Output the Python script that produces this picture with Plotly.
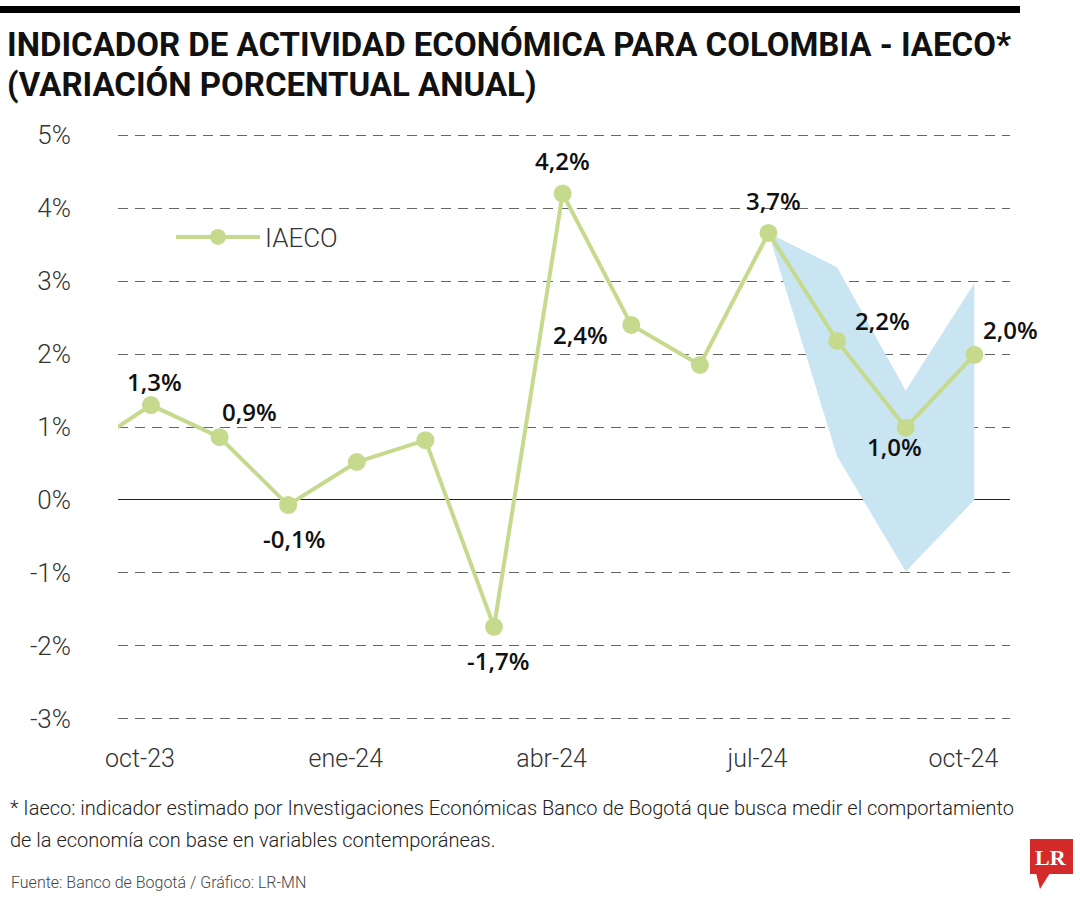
import plotly.graph_objects as go

# ---------------- data ----------------
months = ["sep-23", "oct-23", "nov-23", "dic-23", "ene-24", "feb-24", "mar-24",
          "abr-24", "may-24", "jun-24", "jul-24", "ago-24", "sep-24", "oct-24"]
month_pos = [-1, 0, 1, 2, 3, 4, 5, 6, 7, 8, 9, 10, 11, 12]
iaeco = [0.68, 1.30, 0.86, -0.07, 0.52, 0.82, -1.74, 4.20, 2.40, 1.85, 3.66, 2.18, 0.99, 1.99]

band_pos = [9, 10, 11, 12]
band_upper = [3.66, 3.19, 1.50, 2.97]
band_lower = [3.66, 0.60, -0.98, 0.00]

xtick_pos = [0, 3, 6, 9, 12]
xtick_text = ["oct-23", "ene-24", "abr-24", "jul-24", "oct-24"]
ytick_vals = [-3, -2, -1, 0, 1, 2, 3, 4, 5]
ytick_text = ["-3%", "-2%", "-1%", "0%", "1%", "2%", "3%", "4%", "5%"]

title_lines = ["INDICADOR DE ACTIVIDAD ECONÓMICA PARA COLOMBIA - IAECO*",
               "(VARIACIÓN PORCENTUAL ANUAL)"]
note_lines = ["* Iaeco: indicador estimado por Investigaciones Económicas Banco de Bogotá que busca medir el comportamiento",
              "de la economía con base en variables contemporáneas."]
source_text = "Fuente: Banco de Bogotá / Gráfico: LR-MN"

# labelled points: month index -> (dx, dy) pixel offset of label centre
label_idx = [1, 2, 3, 6, 7, 8, 10, 11, 12, 13]
label_dx = [4, 30, 6, 4, 0, -51, 5, 45, -11, 36]
label_dy = [24, 26, -33, -34, 33, -10, 32, 20, -19, 25]

GREEN = "#c6da8e"
BLUE = "#c8e5f1"
BODY_FONT = "Roboto, Liberation Sans, sans-serif"
TITLE_FONT = "Roboto, Liberation Sans, sans-serif"
BOLD_FONT = "Open Sans, Noto Sans, sans-serif"

# plot area geometry (pixels)
L, R, T, B = 118, 1010, 117, 737
PW, PH = R - L, B - T


def px(xp):
    return (xp - L) / PW


def py(yp):
    return (B - yp) / PH


fig = go.Figure()

# shaded range
fig.add_trace(go.Scatter(
    x=band_pos + band_pos[::-1],
    y=band_upper + band_lower[::-1],
    fill="toself", fillcolor=BLUE, mode="none",
    line=dict(width=0), showlegend=False, hoverinfo="skip",
))

fig.add_trace(go.Scatter(
    x=month_pos, y=iaeco, name="IAECO",
    mode="lines+markers",
    line=dict(color=GREEN, width=4),
    marker=dict(color=GREEN, size=18),
    text=months,
))

annotations = []
for i, dx, dy in zip(label_idx, label_dx, label_dy):
    v = iaeco[i]
    annotations.append(dict(
        x=month_pos[i], y=v, xref="x", yref="y",
        text=f"{v:.1f}".replace(".", ",") + "%",
        showarrow=False, xshift=dx, yshift=dy,
        font=dict(family=BOLD_FONT, size=24, color="#111", weight=600),
        xanchor="center", yanchor="middle",
    ))

for line, ycen in zip(title_lines, [45, 84]):
    annotations.append(dict(
        text=line, xref="paper", yref="paper", x=px(6), y=py(ycen),
        xanchor="left", yanchor="middle", align="left", showarrow=False,
        borderpad=0,
        font=dict(family=TITLE_FONT, size=33, color="#111", weight=700)))

for line, ycen in zip(note_lines, [808, 840]):
    annotations.append(dict(
        text=line, xref="paper", yref="paper", x=px(9), y=py(ycen),
        xanchor="left", yanchor="middle", align="left", showarrow=False,
        borderpad=0,
        font=dict(family=BODY_FONT, size=20, color="#222", weight=300)))

annotations += [
    dict(text=source_text,
         xref="paper", yref="paper", x=px(9), y=py(883),
         xanchor="left", yanchor="middle", align="left", showarrow=False,
         font=dict(family=BODY_FONT, size=16, color="#444", weight=300)),
    dict(text="<b>LR</b>", xref="paper", yref="paper",
         x=px(1051), y=py(857),
         xanchor="center", yanchor="middle", showarrow=False,
         font=dict(family="Liberation Serif, DejaVu Serif, serif", size=22, color="white")),
]

shapes = [
    # top black bar
    dict(type="rect", xref="paper", yref="paper",
         x0=px(0), x1=px(1020), y0=py(13), y1=py(6),
         fillcolor="black", line=dict(width=0), layer="above"),
    # LR logo
    dict(type="rect", xref="paper", yref="paper",
         x0=px(1030), x1=px(1073), y0=py(874), y1=py(839),
         fillcolor="#d42a2a", line=dict(width=0), layer="below"),
    dict(type="path", xref="paper", yref="paper",
         path=f"M {px(1036)} {py(873)} L {px(1050)} {py(873)} L {px(1040)} {py(889)} Z",
         fillcolor="#d42a2a", line=dict(width=0)),
]

fig.update_layout(
    width=1080, height=900,
    margin=dict(l=L, r=1080 - R, t=T, b=900 - B),
    paper_bgcolor="white", plot_bgcolor="white",
    showlegend=True,
    legend=dict(x=px(171), y=py(237),
                xanchor="left", yanchor="middle", bgcolor="rgba(0,0,0,0)",
                font=dict(family=BODY_FONT, size=26, color="#333", weight=300),
                itemwidth=84),
    xaxis=dict(range=[-0.48, 12.52], tickvals=xtick_pos, ticktext=xtick_text,
               showgrid=False, zeroline=False, showline=False, ticks="",
               ticklabelshift=-11, ticklabelstandoff=4,
               tickfont=dict(family=BODY_FONT, size=25, color="#333", weight=300)),
    yaxis=dict(range=[-3.25, 5.25], tickvals=ytick_vals, ticktext=ytick_text,
               showgrid=True, gridcolor="#666", gridwidth=1.2, griddash="10px,7px",
               zeroline=True, zerolinecolor="#222", zerolinewidth=1.3,
               showline=False, ticks="", ticklabelstandoff=46,
               tickfont=dict(family=BODY_FONT, size=26, color="#333", weight=300)),
    annotations=annotations,
    shapes=shapes,
)

fig.write_html("out.html", config={"displayModeBar": False},
               post_script="document.body.style.margin='0';")
